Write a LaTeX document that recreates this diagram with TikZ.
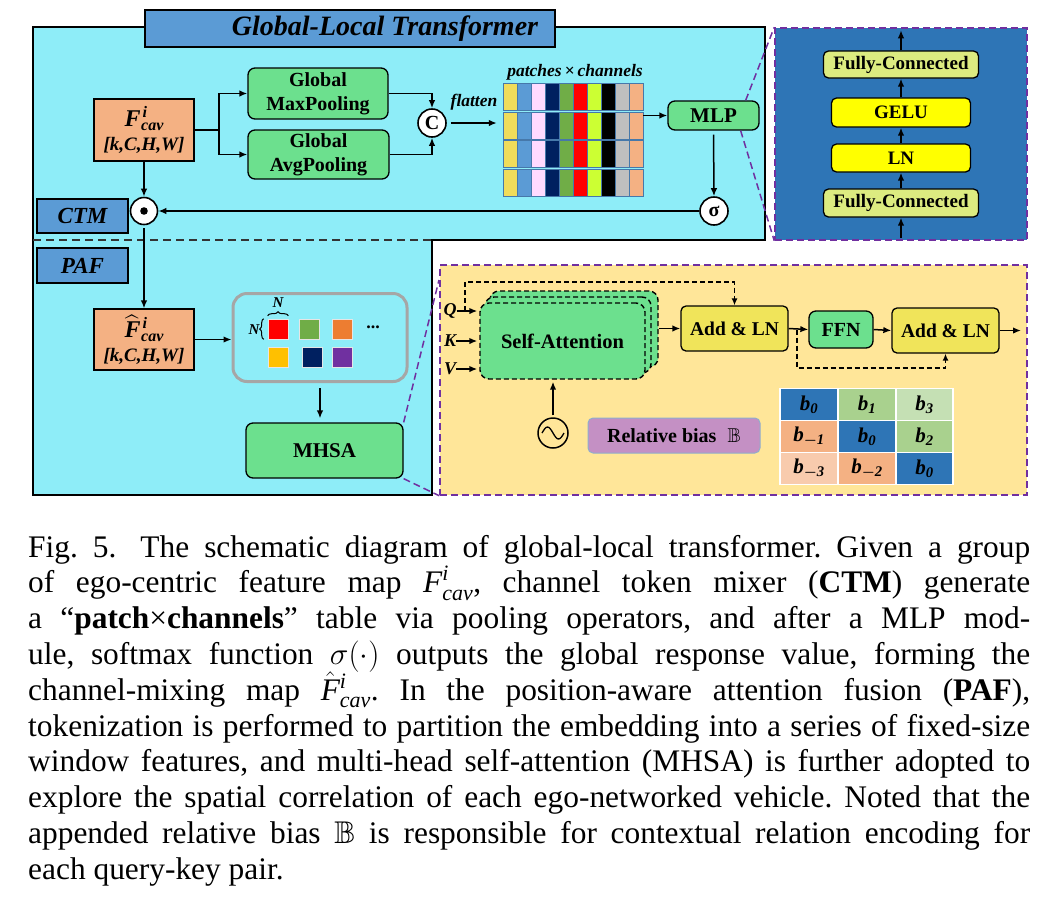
\RequirePackage{fix-cm}
\documentclass[tikz,border=0pt]{standalone}
\usepackage{amsmath,amssymb}
\usepackage{fontspec}
\setmainfont{Liberation Serif}
\usetikzlibrary{arrows.meta,calc,decorations.pathreplacing}
\definecolor{cyanbg}{RGB}{142,237,248}
\definecolor{hdrblue}{RGB}{91,155,213}
\definecolor{boxorange}{RGB}{244,177,131}
\definecolor{boxgreen}{RGB}{108,224,142}
\definecolor{mlpblue}{RGB}{46,117,182}
\definecolor{fcyellow}{RGB}{220,235,128}
\definecolor{pureyellow}{RGB}{255,255,0}
\definecolor{addyellow}{RGB}{240,228,90}
\definecolor{ybg}{RGB}{255,230,153}
\definecolor{dpurple}{RGB}{112,48,160}
\definecolor{biaspurple}{RGB}{196,144,196}
\definecolor{tokgray}{RGB}{166,166,166}
\definecolor{gridline}{RGB}{70,120,170}
\definecolor{gy}{RGB}{240,220,90}
\definecolor{gb}{RGB}{91,155,213}
\definecolor{gp}{RGB}{255,218,255}
\definecolor{gn}{RGB}{0,32,96}
\definecolor{gg}{RGB}{112,173,71}
\definecolor{gr}{RGB}{255,0,0}
\definecolor{gl}{RGB}{204,255,51}
\definecolor{gk}{RGB}{0,0,0}
\definecolor{ga}{RGB}{191,191,191}
\definecolor{go}{RGB}{244,177,131}
\definecolor{tred}{RGB}{255,0,0}
\definecolor{tgreen}{RGB}{112,173,71}
\definecolor{torange}{RGB}{237,125,49}
\definecolor{tyellow}{RGB}{255,192,0}
\definecolor{tnavy}{RGB}{0,32,96}
\definecolor{tpurple}{RGB}{112,48,160}
\definecolor{cblue}{RGB}{46,117,182}
\definecolor{cgreen}{RGB}{169,209,142}
\definecolor{clgreen}{RGB}{197,224,180}
\definecolor{corange}{RGB}{244,177,131}
\definecolor{clorange}{RGB}{248,203,173}
\newcommand{\bfit}{\bfseries\itshape}
\newcommand{\fsz}[1]{\fontsize{#1}{1.2\dimexpr #1pt\relax}\selectfont}
\newcommand{\Fcav}[1]{{\fsz{24}\bfit #1\kern0.5pt{\fsz{16}\rlap{\kern1.5pt\raisebox{9pt}{i}}\raisebox{-4pt}{cav}}}}
\begin{document}
\begin{tikzpicture}[x=1pt,y=-1pt,
  arr/.style={-{Latex[length=8pt,width=6.5pt]}, line width=1.5pt},
  plainline/.style={line width=1.5pt},
  dasharr/.style={-{Latex[length=7pt,width=6pt]}, line width=1.4pt, dash pattern=on 5pt off 3pt},
  pdash/.style={draw=dpurple, line width=1.5pt, dash pattern=on 7pt off 4pt},
  gbox/.style={draw=black, line width=1.3pt, rounded corners=7pt, fill=boxgreen, inner sep=0pt, align=center, font=\fsz{20}\bfseries},
  hdr/.style={draw=black, line width=1.3pt, fill=hdrblue, inner sep=0pt, font=\fsz{23}\bfit},
  obox/.style={draw=black, line width=1.3pt, fill=boxorange, inner sep=0pt, align=center},
  ybox/.style={draw=black, line width=1.3pt, rounded corners=5pt, inner sep=0pt, font=\fsz{19}\bfseries},
  opcirc/.style={circle, draw=black, line width=1.6pt, fill=white, inner sep=0pt, minimum size=28pt},
  sabox/.style={draw=black, line width=1.4pt, dash pattern=on 5pt off 3pt, rounded corners=9pt, fill=boxgreen, inner sep=0pt, minimum width=165pt, minimum height=76pt},
  tsq/.style={draw=white!80!gray, line width=0.6pt, inner sep=0pt, minimum size=20pt},
  bcell/.style={draw=white, line width=1.5pt, inner sep=0pt, minimum width=58pt, minimum height=32pt, font=\fsz{21}},
  lbl/.style={inner sep=0pt}
]
\useasboundingbox (0,0) rectangle (1055,906);

% backgrounds
\draw[fill=cyanbg, line width=1.5pt] (33,27) -- (765,27) -- (765,240) -- (432,240) -- (432,495) -- (33,495) -- cycle;
\draw[line width=1.5pt, draw=black!80, dash pattern=on 8pt off 5pt] (33,240) -- (432,240);
\node[pdash, fill=mlpblue, minimum width=252pt, minimum height=212pt, inner sep=0pt] (bluebox) at (901,134) {};
\node[pdash, fill=ybg, minimum width=587pt, minimum height=230pt, inner sep=0pt] (yelbox) at (733.5,380) {};

% title and headers
\node[hdr, minimum width=410pt, minimum height=37pt] (title) at (350,28.5) {};
\node[lbl, font=\fsz{28}\bfit] (titletext) at (385,29) {Global-Local Transformer};
\node[hdr, minimum width=91pt, minimum height=34pt] (ctm) at (82.5,216) {CTM};
\node[hdr, minimum width=91pt, minimum height=35pt] (paf) at (82.5,265.5) {PAF};

% CTM part
\node[obox, minimum width=100pt, minimum height=62pt] (F) at (144,130)
  {\Fcav{F}\\[5pt]{\fsz{19}\bfit [k,C,H,W]}};
\node[gbox, minimum width=140pt, minimum height=51pt] (maxp) at (318,93.5) {Global\\MaxPooling};
\node[gbox, minimum width=141pt, minimum height=49pt] (avgp) at (318.5,154.5) {Global\\AvgPooling};
\node[opcirc, font=\fsz{20}\bfseries] (cc) at (432,123) {C};
\node[lbl, font=\fsz{17.5}\bfit] (flat) at (474,102) {flatten};
\node[lbl, font=\fsz{17.5}\bfit] (pxc) at (575,72) {patches\,×\,channels};
\node[inner sep=0pt, minimum width=140pt, minimum height=113pt] (grid) at (573,139.5) {};
\foreach \c [count=\i from 0] in {gy,gb,gp,gn,gg,gr,gl,gk,ga,go} {
  \foreach \ya/\yb in {83/110,112/139,140/167,169/196} {
    \draw[fill=\c, draw=gridline, line width=0.6pt] ({503+14*\i},\ya) rectangle ({517+14*\i},\yb);
  }
}
\node[gbox, minimum width=91pt, minimum height=29pt, font=\fsz{21}\bfseries] (mlp) at (713.5,115.5) {MLP};
\node[opcirc, font=\fsz{20}\bfseries] (sig) at (714,211) {σ};
\node[opcirc, minimum size=27pt] (odot) at (144,211) {};
\fill (odot.center) circle (3.8pt);

\coordinate (sp) at (219,130);
\draw[plainline] (F.east) -- (sp);
\draw[arr] (sp) |- (maxp.west);
\draw[arr] (sp) |- (avgp.west);
\draw[arr] (maxp.east) -| (cc.north);
\draw[arr] (avgp.east) -| (cc.south);
\draw[arr, shorten <=4pt, shorten >=6pt] (cc.east) -- (cc.east -| grid.west);
\draw[arr] (mlp.west -| grid.east) -- (mlp.west);
\draw[arr, shorten <=4pt] (mlp.south) -- (sig.north);
\draw[arr] (sig.west) -- (odot.east);
\draw[arr] (F.south) -- (odot.north);

% MLP detail
\node[ybox, fill=fcyellow, minimum width=155pt, minimum height=27pt] (fc2) at (901,64.5) {Fully-Connected};
\node[ybox, fill=pureyellow, minimum width=139pt, minimum height=29pt] (gelu) at (901,112.5) {GELU};
\node[ybox, fill=pureyellow, minimum width=139pt, minimum height=28pt] (ln) at (901,158) {LN};
\node[ybox, fill=fcyellow, minimum width=155pt, minimum height=28pt] (fc1) at (901,203) {Fully-Connected};
\draw[arr, shorten <=3pt] (bluebox.south) -- (fc1.south);
\draw[arr] (fc1.north) -- (ln.south);
\draw[arr] (ln.north) -- (gelu.south);
\draw[arr] (gelu.north) -- (fc2.south);
\draw[arr, shorten >=3pt] (fc2.north) -- (bluebox.north);

% PAF part
\node[obox, minimum width=100pt, minimum height=61pt] (Fh) at (144,339.5)
  {\Fcav{$\widehat{\mbox{\textbf{\textit{F}}}}$}\\[5pt]{\fsz{19}\bfit [k,C,H,W]}};
\node[draw=tokgray, line width=3pt, rounded corners=14pt, minimum width=174pt, minimum height=88pt, inner sep=0pt] (tok) at (320,337.5) {};
\node[tsq, fill=tred] (s1) at (278,329) {};
\node[tsq, fill=tgreen] (s2) at (309.5,329) {};
\node[tsq, fill=torange] (s3) at (342,329) {};
\node[tsq, fill=tyellow] (s4) at (278,357) {};
\node[tsq, fill=tnavy] (s5) at (312,357) {};
\node[tsq, fill=tpurple] (s6) at (342,357) {};
\node[lbl, font=\fsz{18}\bfseries] (dots) at (373,327) {...};
\draw[line width=1pt, decorate, decoration={brace, amplitude=4pt}] (s1.north west) ++(0,-3) -- ($(s1.north east)+(0,-3)$);
\node[lbl, font=\fsz{15}\bfit] (ntop) at (278,303) {N};
\draw[line width=1pt, decorate, decoration={brace, amplitude=4pt}] ($(s1.south west)+(-4,0)$) -- ($(s1.north west)+(-4,0)$);
\node[lbl, font=\fsz{15}\bfit] (nleft) at (254,330) {N};
\node[gbox, minimum width=157pt, minimum height=55pt, font=\fsz{21}\bfseries] (mhsa) at (324.5,450.5) {MHSA};
\draw[arr, shorten <=3pt] (odot.south) -- (Fh.north);
\draw[arr] (Fh.east) -- (Fh.east -| tok.west);
\draw[arr, shorten <=5pt, shorten >=4pt] (tok.south) -- (tok.south |- mhsa.north);

% zoom lines
\coordinate (yzt) at (439,280);
\draw[pdash] ($(mlp.north east)+(-14,0)$) -- (bluebox.north west);
\draw[pdash] ($(mlp.south east)+(-19,0)$) -- (bluebox.south west);
\draw[pdash] (mhsa.north east) -- (yzt);
\draw[pdash] (mhsa.south east) -- (yelbox.south west);

% attention block
\node[sabox, minimum width=168pt] (sa3) at (574,329) {};
\node[sabox, minimum width=166pt] (sa2) at (568,335) {};
\node[sabox, font=\fsz{20.5}\bfseries] (sa1) at (562.5,341) {Self-Attention};
\node[lbl, font=\fsz{18}\bfit] (q) at (450,311) {Q};
\node[lbl, font=\fsz{18}\bfit] (k) at (450,341) {K};
\node[lbl, font=\fsz{18}\bfit] (v) at (450,369) {V};
\draw[arr, shorten >=2pt] (q.east) -- (q.east -| sa1.west);
\draw[arr, shorten >=2pt] (k.east) -- (k.east -| sa1.west);
\draw[arr, shorten >=2pt] (v.east) -- (v.east -| sa1.west);
\node[ybox, fill=addyellow, minimum width=107pt, minimum height=45pt, font=\fsz{19.5}\bfseries] (aln1) at (734.5,328.5) {Add \& LN};
\node[gbox, minimum width=64pt, minimum height=37pt] (ffn) at (841,329.5) {FFN};
\node[ybox, fill=addyellow, minimum width=107pt, minimum height=45pt, font=\fsz{19.5}\bfseries] (aln2) at (945.5,330.5) {Add \& LN};
\coordinate (qtap) at (465,311);
\coordinate (rtop) at (465,282);
\draw[dasharr] (qtap) -- (rtop) -| (aln1.north);
\draw[arr] (sa3.east |- aln1.west) -- (aln1.west);
\draw[arr] (aln1.east) -- (ffn.west);
\draw[arr] (ffn.east) -- (aln2.west);
\coordinate (outp) at (1021,330.5);
\draw[arr] (aln2.east) -- (outp);
\coordinate (r2a) at (797,329.5);
\coordinate (r2b) at (797,368);
\draw[dasharr] (r2a) -- (r2b) -| (aln2.south);
\node[circle, draw=black, line width=1.5pt, minimum size=30pt, inner sep=0pt] (sine) at (553,433) {};
\draw[line width=1.3pt] ($(sine.center)+(-11,0)$) sin ++(5.5,-6) cos ++(5.5,6) sin ++(5.5,6) cos ++(5.5,-6);
\draw[arr, shorten <=2pt, shorten >=2pt] (sine.north) -- (sine.north |- sa1.south);
\node[draw=gridline!60, line width=1pt, fill=biaspurple, rounded corners=5pt, minimum width=172pt, minimum height=35pt, inner sep=0pt, font=\fsz{20}\bfseries] (bias) at (674,435.5) {Relative bias\;\;$\mathbb{B}$};

% bias table
\node[bcell, fill=cblue] (t11) at (809,404.5) {\bfit b$_{\textbf{0}}$};
\node[bcell, fill=cgreen] (t12) at (867,404.5) {\bfit b$_{\textbf{1}}$};
\node[bcell, fill=clgreen, minimum width=57pt] (t13) at (924.5,404.5) {\bfit b$_{\textbf{3}}$};
\node[bcell, fill=corange] (t21) at (809,436.5) {\bfit b$_{\boldsymbol{-}\textbf{1}}$};
\node[bcell, fill=cblue] (t22) at (867,436.5) {\bfit b$_{\textbf{0}}$};
\node[bcell, fill=cgreen, minimum width=57pt] (t23) at (924.5,436.5) {\bfit b$_{\textbf{2}}$};
\node[bcell, fill=clorange] (t31) at (809,468.5) {\bfit b$_{\boldsymbol{-}\textbf{3}}$};
\node[bcell, fill=corange] (t32) at (867,468.5) {\bfit b$_{\boldsymbol{-}\textbf{2}}$};
\node[bcell, fill=cblue, minimum width=57pt] (t33) at (924.5,468.5) {\bfit b$_{\textbf{0}}$};

% caption
\node[anchor=base west, inner sep=0pt, text width=1002pt, align=justify, font=\fontsize{31.4}{35.8}\selectfont] (cap) at (28,557)
{\tolerance=10000\hyphenpenalty=10000\emergencystretch=20pt\frenchspacing
Fig.~5.\hspace{24pt}The schematic diagram of global-local transformer. Given a group\linebreak
of ego-centric feature map $\textit{F}^{\textit{i}}_{\textit{cav}}$, channel token mixer (\textbf{CTM}) generate\linebreak
a ``\textbf{patch}×\textbf{channels}'' table via pooling operators, and after a MLP mod-\linebreak
ule, softmax function $\sigma(\cdot)$ outputs the global response value, forming the\linebreak
channel-mixing map $\smash{\hat{\textit{F}}}^{\textit{i}}_{\textit{cav}}$. In the position-aware attention fusion (\textbf{PAF}),\linebreak
tokenization is performed to partition the embedding into a series of fixed-size\linebreak
window features, and multi-head self-attention (MHSA) is further adopted to\linebreak
explore the spatial correlation of each ego-networked vehicle. Noted that the\linebreak
appended relative bias $\mathbb{B}$ is responsible for contextual relation encoding for\linebreak
each query-key pair.\par};
\end{tikzpicture}
\end{document}
